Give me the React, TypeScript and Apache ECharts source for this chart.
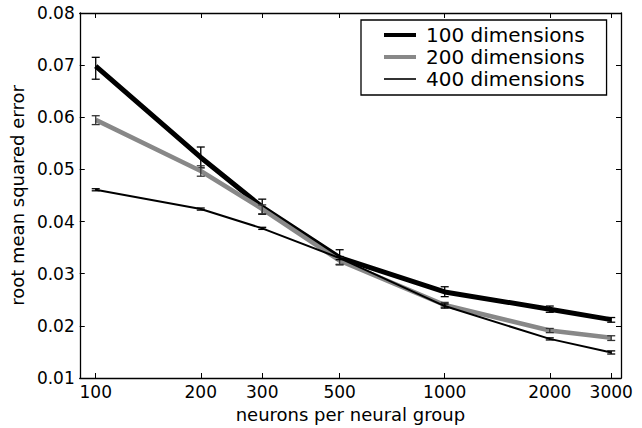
import React, { useEffect, useRef } from "react";
import * as echarts from "echarts";

const neurons = [100, 200, 300, 500, 1000, 2000, 3000];
const xTicks = [100, 200, 300, 500, 1000, 2000, 3000];
const yTicks = [0.01, 0.02, 0.03, 0.04, 0.05, 0.06, 0.07, 0.08];

const dim100 = [0.0698, 0.0523, 0.0428, 0.0331, 0.0265, 0.0232, 0.0212];
const dim100Lo = [0.0673, 0.0503, 0.0414, 0.0317, 0.0256, 0.0226, 0.0207];
const dim100Hi = [0.0715, 0.0543, 0.0443, 0.0346, 0.0275, 0.0238, 0.0216];

const dim200 = [0.0595, 0.0497, 0.0424, 0.0325, 0.024, 0.0191, 0.0177];
const dim200Lo = [0.0586, 0.0487, 0.0415, 0.0318, 0.0236, 0.0187, 0.0172];
const dim200Hi = [0.0603, 0.0507, 0.0432, 0.0332, 0.0245, 0.0195, 0.0181];

const dim400 = [0.0461, 0.0424, 0.0387, 0.033, 0.0238, 0.0175, 0.0149];
const dim400Lo = [0.0459, 0.0422, 0.0385, 0.0327, 0.0234, 0.0173, 0.0146];
const dim400Hi = [0.0463, 0.0426, 0.0389, 0.0333, 0.0242, 0.0177, 0.0152];

const FONT = "DejaVu Sans";

function errorSeries(name: string, lo: number[], hi: number[], color: string, z: number) {
  return {
    type: "custom",
    name: name + " err",
    xAxisIndex: 0,
    yAxisIndex: 0,
    z,
    silent: true,
    data: neurons.map((n, i) => [n, lo[i], hi[i]]),
    renderItem: (params: any, api: any) => {
      const x = api.value(0);
      const a = api.coord([x, api.value(1)]);
      const b = api.coord([x, api.value(2)]);
      const cap = 4;
      const style = { stroke: color, lineWidth: 1.3, fill: "none" };
      return {
        type: "group",
        children: [
          { type: "line", shape: { x1: a[0], y1: a[1], x2: b[0], y2: b[1] }, style },
          { type: "line", shape: { x1: a[0] - cap, y1: a[1], x2: a[0] + cap, y2: a[1] }, style },
          { type: "line", shape: { x1: b[0] - cap, y1: b[1], x2: b[0] + cap, y2: b[1] }, style },
        ],
      };
    },
  };
}

export default function App() {
  const ref = useRef<HTMLDivElement>(null);
  useEffect(() => {
    if (!ref.current) return;
    const chart = echarts.init(ref.current, null, { renderer: "svg" });
    const axisLine = { show: true, lineStyle: { color: "#000", width: 1.3 } };
    const tick = { show: true, inside: true, length: 5, lineStyle: { color: "#000", width: 1 } };
    const xBase = {
      type: "log",
      logBase: 10,
      min: 90,
      max: 3200,
      splitLine: { show: false },
      minorTick: { show: false },
      axisLine: { ...axisLine, onZero: false },
    };
    const yBase = {
      type: "value",
      min: 0.01,
      max: 0.08,
      interval: 0.01,
      splitLine: { show: false },
      axisLine: { ...axisLine, onZero: false },
    };
    chart.setOption({
      animation: false,
      backgroundColor: "#fff",
      grid: { left: 78, top: 13, right: 21, bottom: 47, containLabel: false },
      legend: {
        show: true,
        orient: "vertical",
        left: 361,
        top: 20,
        padding: [5, 22, 6, 23],
        itemGap: 2,
        itemWidth: 32,
        itemHeight: 14,
        borderColor: "#000",
        borderWidth: 1.3,
        borderRadius: 0,
        backgroundColor: "#fff",
        symbolKeepAspect: true,
        textStyle: { fontFamily: FONT, fontSize: 20, color: "#000", lineHeight: 20, padding: [0, 0, 0, 5] },
        data: [
          { name: "100 dimensions", icon: "path://M0,0L32,0L32,4L0,4Z", itemStyle: { color: "#000" } },
          { name: "200 dimensions", icon: "path://M0,0L32,0L32,4L0,4Z", itemStyle: { color: "#888" } },
          { name: "400 dimensions", icon: "path://M0,0L32,0L32,1.6L0,1.6Z", itemStyle: { color: "#000" } },
        ],
      },
      xAxis: [
        {
          ...xBase,
          position: "bottom",
          name: "neurons per neural group",
          nameLocation: "middle",
          nameGap: 27,
          nameTextStyle: { fontFamily: FONT, fontSize: 18, color: "#000" },
          axisTick: { ...tick, customValues: xTicks },
          axisLabel: {
            show: true,
            customValues: xTicks,
            margin: 5,
            fontFamily: FONT,
            fontSize: 17,
            color: "#000",
            formatter: (v: number) => String(Math.round(v)),
          },
        },
        {
          ...xBase,
          position: "top",
          axisTick: { ...tick, customValues: xTicks },
          axisLabel: { show: false, customValues: xTicks },
        },
      ],
      yAxis: [
        {
          ...yBase,
          position: "left",
          name: "root mean squared error",
          nameLocation: "middle",
          nameGap: 49,
          nameRotate: 90,
          nameTextStyle: { fontFamily: FONT, fontSize: 18, color: "#000" },
          axisTick: tick,
          axisLabel: {
            show: true,
            margin: 5,
            fontFamily: FONT,
            fontSize: 17,
            color: "#000",
            formatter: (v: number) => v.toFixed(2),
          },
        },
        {
          ...yBase,
          position: "right",
          axisTick: tick,
          axisLabel: { show: false },
        },
      ],
      series: [
        {
          type: "line",
          name: "100 dimensions",
          data: neurons.map((n, i) => [n, dim100[i]]),
          showSymbol: false,
          lineStyle: { color: "#000", width: 5 },
          itemStyle: { color: "#000" },
          z: 2,
        },
        errorSeries("100 dimensions", dim100Lo, dim100Hi, "#000", 3),
        {
          type: "line",
          name: "200 dimensions",
          data: neurons.map((n, i) => [n, dim200[i]]),
          showSymbol: false,
          lineStyle: { color: "#888", width: 4.5 },
          itemStyle: { color: "#888" },
          z: 4,
        },
        errorSeries("200 dimensions", dim200Lo, dim200Hi, "#333", 5),
        {
          type: "line",
          name: "400 dimensions",
          data: neurons.map((n, i) => [n, dim400[i]]),
          showSymbol: false,
          lineStyle: { color: "#000", width: 2 },
          itemStyle: { color: "#000" },
          z: 6,
        },
        errorSeries("400 dimensions", dim400Lo, dim400Hi, "#000", 7),
      ],
    });
    return () => chart.dispose();
  }, []);
  return <div ref={ref} style={{ width: 642, height: 428, position: "absolute", left: 0, top: 0 }} />;
}
